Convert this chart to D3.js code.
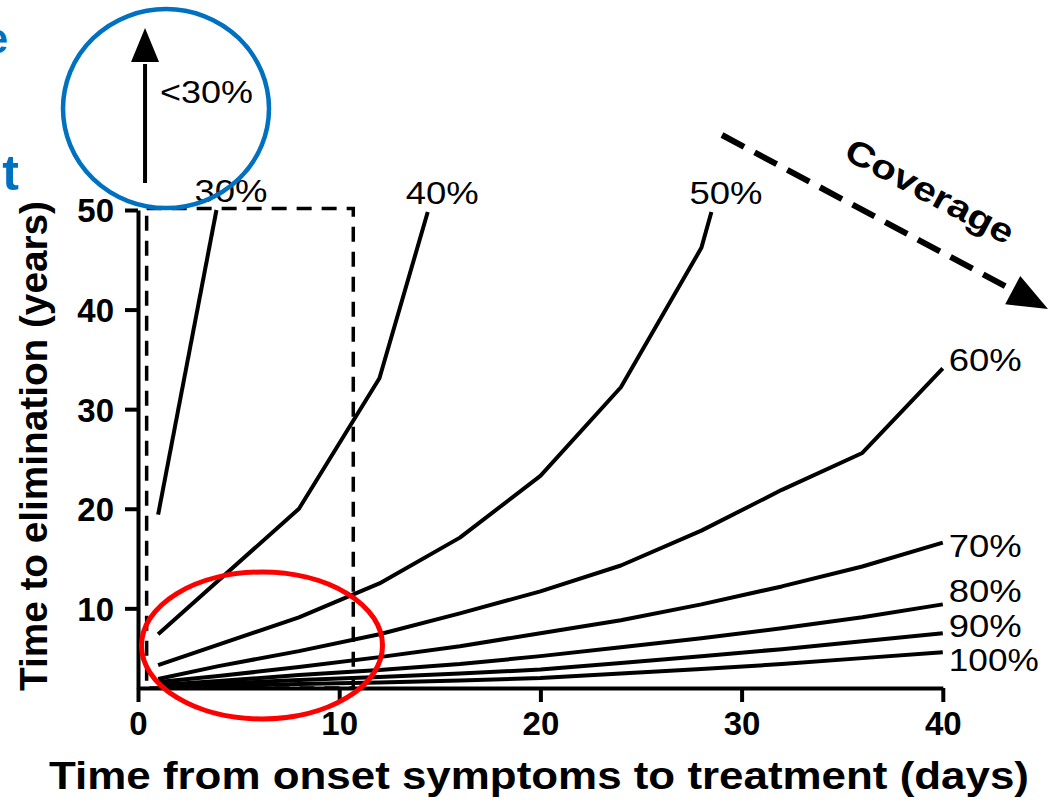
<!DOCTYPE html>
<html>
<head>
<meta charset="utf-8">
<script src="https://cdn.jsdelivr.net/npm/d3@7"></script>
<style>
  html, body { margin: 0; padding: 0; background: #fff; }
  svg { display: block; }
  text { font-family: "Liberation Sans", Arial, Helvetica, sans-serif; }
</style>
</head>
<body>
<svg id="chart" width="1048" height="802"></svg>
<script>
// ---- data ----
const coverageLabels = ["30%", "40%", "50%", "60%", "70%", "80%", "90%", "100%"];
const days30 = [1, 3.9];
const years30 = [19.4, 50];
const days40 = [1, 8, 12, 14.4];
const years40 = [7.4, 20.0, 33.1, 49.8];
const days50 = [1, 8, 12, 16, 20, 24, 28, 28.5];
const years50 = [4.3, 9.1, 12.5, 17.1, 23.3, 32.2, 46.2, 49.8];
const daysFull = [1, 4, 8, 12, 16, 20, 24, 28, 32, 36, 40];
const years60 = [2.9, 4.2, 5.7, 7.4, 9.5, 11.7, 14.3, 17.8, 21.9, 25.6, 34.1];
const years70 = [2.6, 3.2, 4.1, 5.1, 6.2, 7.5, 8.8, 10.4, 12.2, 14.2, 16.6];
const years80 = [2.3, 2.7, 3.3, 3.8, 4.4, 5.2, 6.1, 7.0, 8.0, 9.1, 10.4];
const years90 = [2.15, 2.45, 2.8, 3.1, 3.45, 3.85, 4.5, 5.2, 5.9, 6.7, 7.5];
const years100 = [2.1, 2.2, 2.4, 2.55, 2.75, 3.0, 3.45, 3.9, 4.4, 5.0, 5.6];
const xTicks = [0, 10, 20, 30, 40];
const yTicks = [10, 20, 30, 40, 50];
const zoomBoxDays = [0.43, 10.7];
const zoomBoxYears = [2, 50.15];
const xTitle = "Time from onset symptoms to treatment (days)";
const yTitle = "Time to elimination (years)";
const belowLabel = "<30%";
const coverageText = "Coverage";

// ---- build series ----
const seriesX = [days30, days40, days50, daysFull, daysFull, daysFull, daysFull, daysFull];
const seriesY = [years30, years40, years50, years60, years70, years80, years90, years100];
const series = coverageLabels.map((lab, i) => ({
  label: lab,
  pts: seriesX[i].map((d, j) => [d, seriesY[i][j]])
}));

const svg = d3.select("#chart");
const x = d3.scaleLinear().domain([0, 40]).range([138, 942.8]);
const y = d3.scaleLinear().domain([2, 50]).range([688, 210]);

// ---- axes ----
const yAxis = d3.axisLeft(y).tickValues(yTicks).tickSize(13).tickSizeOuter(0).tickPadding(11);
const xAxis = d3.axisBottom(x).tickValues(xTicks).tickSize(14).tickSizeOuter(0).tickPadding(9);

const gy = svg.append("g").attr("transform", `translate(${x(0)},0)`).call(yAxis);
const gx = svg.append("g").attr("transform", `translate(0,${y(2)})`).call(xAxis);
[gx, gy].forEach(g => {
  g.select(".domain").attr("stroke", "#000").attr("stroke-width", 4);
  g.selectAll(".tick line").attr("stroke", "#000").attr("stroke-width", 4);
  g.selectAll(".tick text")
    .attr("fill", "#000")
    .style("font-family", '"Liberation Sans", Arial, sans-serif')
    .style("font-weight", "bold")
    .style("font-size", "33px");
});
gy.selectAll(".tick text").attr("dy", "0.36em");
gx.selectAll(".tick text").attr("dy", "0.74em");

// axis titles
svg.append("text")
  .attr("x", 539).attr("y", 789)
  .attr("text-anchor", "middle")
  .attr("textLength", 980).attr("lengthAdjust", "spacingAndGlyphs")
  .style("font-weight", "bold").style("font-size", "39px")
  .text(xTitle);

svg.append("text")
  .attr("transform", `translate(47,446) rotate(-90)`)
  .attr("text-anchor", "middle")
  .attr("textLength", 490).attr("lengthAdjust", "spacingAndGlyphs")
  .style("font-weight", "bold").style("font-size", "38px")
  .text(yTitle);

// ---- dashed zoom box ----
svg.append("rect")
  .attr("x", x(zoomBoxDays[0]))
  .attr("y", y(zoomBoxYears[1]))
  .attr("width", x(zoomBoxDays[1]) - x(zoomBoxDays[0]))
  .attr("height", y(zoomBoxYears[0]) - y(zoomBoxYears[1]))
  .attr("fill", "none").attr("stroke", "#000")
  .attr("stroke-width", 3.5).attr("stroke-dasharray", "15,10");

// ---- lines ----
const line = d3.line().x(d => x(d[0])).y(d => y(d[1]));
svg.append("g").selectAll("path").data(series).join("path")
  .attr("d", d => line(d.pts))
  .attr("fill", "none").attr("stroke", "#000")
  .attr("stroke-width", 4).attr("stroke-linejoin", "round");

// ---- curve labels ----
const labelFont = 31;
series.forEach((s, i) => {
  const last = s.pts[s.pts.length - 1];
  const ex = x(last[0]), ey = y(last[1]);
  let lx, ly, len;
  if (i < 3) { lx = ex - 22; ly = ey - 8; len = 73; }
  else {
    const dy = [3, 14, -2, 4, 19][i - 3];
    lx = ex + 6; ly = ey + dy; len = (s.label.length === 4 ? 90 : 73);
  }
  svg.append("text")
    .attr("x", lx).attr("y", ly)
    .attr("textLength", len).attr("lengthAdjust", "spacingAndGlyphs")
    .style("font-size", labelFont + "px")
    .text(s.label);
});

// ---- "<30%" upward arrow ----
const ax = x(0.35);
const aBottom = 183, aTipY = 28, aBase = 62;
svg.append("line")
  .attr("x1", ax).attr("x2", ax).attr("y1", aBottom).attr("y2", aBase + 2)
  .attr("stroke", "#000").attr("stroke-width", 4);
svg.append("path")
  .attr("d", `M${ax},${aTipY} L${ax - 14},${aBase} L${ax + 14},${aBase} Z`)
  .attr("fill", "#000");
svg.append("text")
  .attr("x", 160).attr("y", 103)
  .attr("textLength", 93).attr("lengthAdjust", "spacingAndGlyphs")
  .style("font-size", "31px")
  .text(belowLabel);

// ---- Coverage dashed arrow ----
const c0 = [722, 135], tip = [1048, 309];
const dv = [tip[0] - c0[0], tip[1] - c0[1]];
const dl = Math.hypot(dv[0], dv[1]);
const u = [dv[0] / dl, dv[1] / dl];
const headLen = 40, headHalf = 16;
const base = [tip[0] - u[0] * headLen, tip[1] - u[1] * headLen];
svg.append("line")
  .attr("x1", c0[0]).attr("y1", c0[1])
  .attr("x2", base[0] + u[0] * 4).attr("y2", base[1] + u[1] * 4)
  .attr("stroke", "#000").attr("stroke-width", 6)
  .attr("stroke-dasharray", "25,12");
svg.append("path")
  .attr("d", `M${tip[0]},${tip[1]} L${base[0] - u[1] * headHalf},${base[1] + u[0] * headHalf} L${base[0] + u[1] * headHalf},${base[1] - u[0] * headHalf} Z`)
  .attr("fill", "#000");
svg.append("text")
  .attr("transform", `translate(930,191) rotate(28)`)
  .attr("text-anchor", "middle").attr("dominant-baseline", "central")
  .attr("textLength", 186).attr("lengthAdjust", "spacingAndGlyphs")
  .style("font-weight", "bold").style("font-size", "34px")
  .text(coverageText);

// ---- highlight ellipses ----
svg.append("ellipse")
  .attr("cx", 166).attr("cy", 108.6).attr("rx", 103).attr("ry", 99.5)
  .attr("fill", "none").attr("stroke", "#0070C0").attr("stroke-width", 4.5);
svg.append("ellipse")
  .attr("cx", 262).attr("cy", 645.5).attr("rx", 120.5).attr("ry", 73.5)
  .attr("fill", "none").attr("stroke", "#FF0000").attr("stroke-width", 5);

// ---- cut-off blue title fragments at left edge ----
svg.append("text")
  .attr("x", 8).attr("y", 53).attr("text-anchor", "end")
  .attr("fill", "#0070C0")
  .style("font-weight", "bold").style("font-size", "42px")
  .text("e");
svg.append("text")
  .attr("x", 19).attr("y", 190).attr("text-anchor", "end")
  .attr("fill", "#0070C0")
  .style("font-weight", "bold").style("font-size", "50px")
  .text("t");
</script>
</body>
</html>
